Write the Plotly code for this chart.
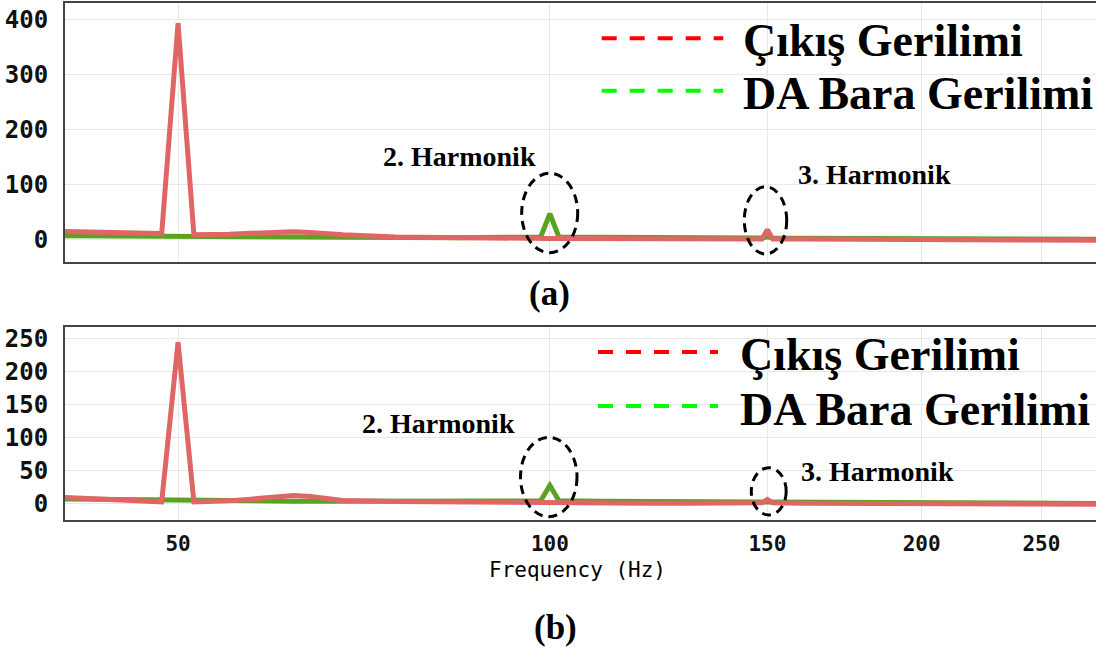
import math
import plotly.graph_objects as go

W, H = 1096, 650

# ---------------- data ----------------
freq_hz = [40, 44, 48.5, 50, 51.5, 55, 60, 62, 64, 68, 75, 84, 92, 98.3, 100, 101.7,
           110, 120, 130, 140, 148.5, 150, 151.5, 160, 175, 190, 205, 215, 225, 240, 260, 280]
a_cikis = [15, 13, 11, 393, 9, 10, 14, 14.5, 13, 9, 5, 3, 2.5, 2, 2, 2,
           2, 1.5, 1, 1, 1, 18, 1, 1, 0.5, 0.5, 0, -0.5, -1, -1, -1, -1]
a_da_bara = [7, 6.5, 6, 6, 5.5, 5, 4.5, 4.5, 4, 4, 4, 3.5, 4.5, 5, 47, 5,
             4.5, 3.5, 3, 3, 3, 5, 3, 2.5, 2, 2, 1.5, 1, 0.5, 0.5, 0.5, 0.5]
b_cikis = [10, 7, 3, 245, 3, 4.5, 11, 12.5, 11, 5, 3.5, 2.5, 2, 1.5, 1.5, 1.5,
           1.5, 1, 1, 1, 1.5, 6.5, 1.5, 1, 0.5, 0.5, 0, 0, 0, -0.5, -0.5, -0.5]
b_da_bara = [7.5, 6.5, 5, 5, 4.5, 4, 4, 4, 4, 4, 4, 4.5, 5, 4.5, 28, 4.5,
             4, 3.5, 3, 3, 3, 3.5, 3, 2.5, 2, 2, 1.5, 1.5, 1, 1, 0.5, 0.5]

x_tickvals = [50, 100, 150, 200, 250]
x_ticktext = ["50", "100", "150", "200", "250"]
series_names = ["Çıkış Gerilimi", "DA Bara Gerilimi"]
harmonic_labels = ["2. Harmonik", "3. Harmonik"]
panel_labels = ["(a)", "(b)"]
x_title = "Frequency (Hz)"

# ---------------- styling ----------------
RED = "#e06666"
GREEN = "#5aa320"
GRID = "#e8e8e8"
AXLINE = "#444444"
MONO = "DejaVu Sans Mono"
SERIF = "Liberation Serif, Times New Roman, serif"


def px(x):
    return x / W


def py(y):
    return 1 - y / H


fig = go.Figure()
for xa, ya, da, ci in [("x", "y", a_da_bara, a_cikis), ("x2", "y2", b_da_bara, b_cikis)]:
    fig.add_trace(go.Scatter(x=freq_hz, y=da, mode="lines", name=series_names[1],
                             line=dict(color=GREEN, width=5), xaxis=xa, yaxis=ya,
                             showlegend=False))
    fig.add_trace(go.Scatter(x=freq_hz, y=ci, mode="lines", name=series_names[0],
                             line=dict(color=RED, width=5), xaxis=xa, yaxis=ya,
                             showlegend=False))

xrange_log = [math.log10(40.5), math.log10(276.8)]
common_x = dict(type="log", range=xrange_log, domain=[px(65), 1],
                tickvals=x_tickvals, ticktext=x_ticktext, automargin=False,
                showgrid=True, gridcolor=GRID, gridwidth=1,
                showline=True, mirror=True, linecolor=AXLINE, linewidth=2,
                ticks="", zeroline=False)
common_y = dict(showgrid=True, gridcolor=GRID, gridwidth=1, zeroline=False,
                showline=True, linecolor=AXLINE, linewidth=2, ticks="",
                tick0=0, ticklabelstandoff=10, automargin=False,
                tickfont=dict(family=MONO, size=24, color="#111", weight="bold"))

fig.update_layout(
    width=W, height=H,
    margin=dict(l=0, r=0, t=0, b=0),
    paper_bgcolor="white", plot_bgcolor="white",
    showlegend=False,
    xaxis=dict(common_x, anchor="y", showticklabels=False),
    yaxis=dict(common_y, domain=[py(261.7), py(3.3)], range=[-40, 429], dtick=100, anchor="x"),
    xaxis2=dict(common_x, anchor="y2", showticklabels=True, ticklabelstandoff=4,
                tickfont=dict(family=MONO, size=21, color="#111", weight="bold")),
    yaxis2=dict(common_y, domain=[py(520), py(326.7)], range=[-24.5, 268.5], dtick=50, anchor="x2"),
)

shapes = []
# dashed ellipses around harmonics
for (x0, x1, y0, y1) in [(521.7, 577.7, 173.3, 252.7), (744.3, 786.7, 186.7, 254),
                         (520.5, 577, 437.3, 516.7), (751.3, 786.2, 467.7, 515)]:
    shapes.append(dict(type="circle", xref="paper", yref="paper",
                       x0=px(x0), x1=px(x1), y0=py(y1), y1=py(y0),
                       line=dict(color="black", width=3, dash="9px,6px")))
# custom legend lines
for (x0, x1, y, col) in [(601.7, 723.3, 38.3, "#ff0000"), (601.7, 723.3, 90.7, "#00ff00"),
                         (598, 718, 352, "#ff0000"), (598, 718, 406, "#00ff00")]:
    shapes.append(dict(type="line", xref="paper", yref="paper",
                       x0=px(x0), x1=px(x1), y0=py(y), y1=py(y),
                       line=dict(color=col, width=4, dash="15px,13px")))
fig.update_layout(shapes=shapes)

ann = []
# legend texts
for (x, y, t) in [(741, 41, series_names[0]), (741, 94, series_names[1]),
                  (738, 354, series_names[0]), (738, 409, series_names[1])]:
    ann.append(dict(text="<b>%s</b>" % t, x=px(x), y=py(y), xref="paper", yref="paper",
                    xanchor="left", yanchor="middle", showarrow=False,
                    font=dict(family=SERIF, size=46, color="black")))
# harmonic labels
for (x, y, t) in [(459.7, 157, harmonic_labels[0]), (874.5, 175, harmonic_labels[1]),
                  (438, 424, harmonic_labels[0]), (877, 471, harmonic_labels[1])]:
    ann.append(dict(text="<b>%s</b>" % t, x=px(x), y=py(y), xref="paper", yref="paper",
                    xanchor="center", yanchor="middle", showarrow=False,
                    font=dict(family=SERIF, size=28, color="black")))
# panel labels
for (x, y, t) in [(549, 293, panel_labels[0]), (555, 627, panel_labels[1])]:
    ann.append(dict(text="<b>%s</b>" % t, x=px(x), y=py(y), xref="paper", yref="paper",
                    xanchor="center", yanchor="middle", showarrow=False,
                    font=dict(family=SERIF, size=35, color="black")))
# x axis title
ann.append(dict(text=x_title, x=px(577), y=py(570), xref="paper", yref="paper",
                xanchor="center", yanchor="middle", showarrow=False,
                font=dict(family=MONO, size=21, color="black")))
fig.update_layout(annotations=ann)

# remove the browser's default 8px page margin so the figure sits at the window origin
fig.write_html("out.html", config={"displayModeBar": False},
               post_script="document.body.style.margin='0px';document.body.style.overflow='hidden';")
